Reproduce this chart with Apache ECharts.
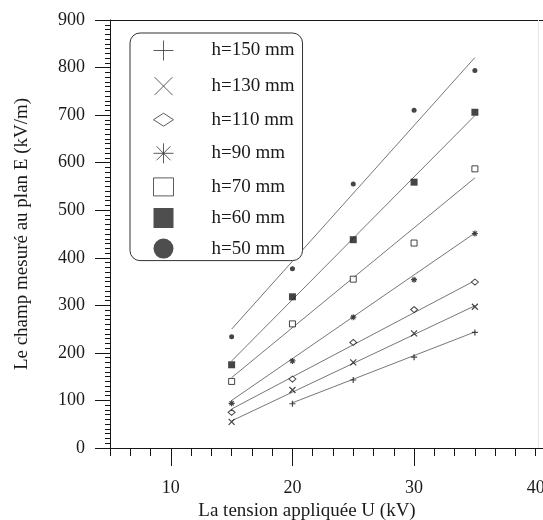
<!DOCTYPE html>
<html>
<head>
<meta charset="utf-8">
<script src="https://cdn.jsdelivr.net/npm/echarts@6/dist/echarts.min.js"></script>
<style>html,body{margin:0;padding:0;background:#fff}#chart{width:543px;height:520px}</style>
</head>
<body>
<div id="chart"></div>
<script>
var tension = [15, 20, 25, 30, 35];
// measured field E (kV/m), one array per height h
var h150 = [null, 93, 143, 191, 243];
var h130 = [55, 122, 180, 241, 297];
var h110 = [75, 145, 222, 291, 349];
var h90 = [94, 183, 275, 354, 451];
var h70 = [140, 261, 355, 431, 587];
var h60 = [175, 318, 438, 559, 706];
var h50 = [234, 377, 555, 710, 794];
// fitted lines, end points
var fit150 = [[20, 95], [35, 244]];
var fit130 = [[15, 57], [35, 299]];
var fit110 = [[15, 82], [35, 352]];
var fit90 = [[15, 100], [35, 452]];
var fit70 = [[15, 148], [35, 568]];
var fit60 = [[15, 183], [35, 699]];
var fit50 = [[15, 250], [35, 821]];
var xMajor = [10, 20, 30];
var xLabels = [10, 20, 30, 40];

var names = ['h=150 mm', 'h=130 mm', 'h=110 mm', 'h=90 mm', 'h=70 mm', 'h=60 mm', 'h=50 mm'];
var values = [h150, h130, h110, h90, h70, h60, h50];
var fits = [fit150, fit130, fit110, fit90, fit70, fit60, fit50];

var ink = '#161616';
var font = 'Liberation Serif';
// legend icons live in a 53x20 box, drawn in its left 20px so the text sits further right
var box = 'path://M0,0M53,20';
var marks = [
    {sym: 'path://M0,5H10M5,0V10', size: 6, icon: box + 'M0,10H20M10,0V20', fill: false},
    {sym: 'path://M0,0L10,10M10,0L0,10', size: 6, icon: box + 'M1,1L19,19M19,1L1,19', fill: false},
    {sym: 'diamond', size: [7, 6], icon: box + 'M0,10L10,3.5L20,10L10,16.5Z', fill: '#fff'},
    {sym: 'path://M0,5H10M5,0V10M1.5,1.5L8.5,8.5M8.5,1.5L1.5,8.5', size: 6, icon: box + 'M0,10H20M10,0V20M3,3L17,17M17,3L3,17', fill: false},
    {sym: 'rect', size: 6, icon: box + 'M0,1H20V19H0Z', fill: '#fff'},
    {sym: 'rect', size: 7, icon: box + 'M0,0H20V20H0Z', fill: ink},
    {sym: 'circle', size: 5, icon: box + 'M0,10A10,10 0 1,1 20,10A10,10 0 1,1 0,10Z', fill: ink}
];

var series = [];
var legendData = [];
for (var i = 0; i < names.length; i++) {
    var m = marks[i];
    var pts = [];
    for (var j = 0; j < tension.length; j++) {
        if (values[i][j] != null) pts.push([tension[j], values[i][j]]);
    }
    series.push({
        name: 'fit ' + names[i],
        type: 'line',
        data: fits[i],
        symbol: 'none',
        silent: true,
        z: 1,
        lineStyle: {color: '#777', width: 1}
    });
    var style = m.fill === false
        ? {color: 'none', borderColor: ink, borderWidth: 1.2}
        : (m.fill === '#fff' ? {color: '#fff', borderColor: ink, borderWidth: 1} : {color: ink, borderWidth: 0});
    series.push({
        name: names[i],
        type: 'scatter',
        data: pts,
        symbol: m.sym,
        symbolSize: m.size,
        z: 3,
        itemStyle: style
    });
    legendData.push({
        name: names[i],
        icon: m.icon,
        itemStyle: m.fill === false || m.fill === '#fff'
            ? {color: m.fill === false ? 'none' : '#fff', borderColor: '#333', borderWidth: 1}
            : {color: '#222', borderWidth: 0}
    });
}
// faint right frame
series[0].markLine = {
    silent: true,
    symbol: 'none',
    label: {show: false},
    lineStyle: {color: '#e4e4e4', type: 'solid', width: 1},
    data: [{xAxis: 40.2}]
};

var myChart = echarts.init(document.getElementById('chart'));
var option = {
    backgroundColor: '#fff',
    animation: false,
    grid: {left: 110, right: 0, top: 20, bottom: 72, containLabel: false, outerBoundsMode: 'none'},
    legend: {
        orient: 'vertical',
        left: 130,
        top: 33,
        padding: [5, 8, 2, 21],
        itemWidth: 53,
        itemHeight: 20,
        itemGap: 10.6,
        borderColor: '#333',
        borderWidth: 1,
        borderRadius: 10,
        backgroundColor: '#fff',
        textStyle: {fontFamily: font, fontSize: 19, color: '#1a1a1a', lineHeight: 20},
        data: legendData
    },
    xAxis: [{
        type: 'value',
        min: 5,
        max: 40.6,
        interval: 10 / 6,
        axisLine: {lineStyle: {color: ink, width: 1}},
        axisTick: {length: 8, lineStyle: {color: ink}},
        axisLabel: {show: false},
        splitLine: {show: false}
    }, {
        type: 'value',
        min: 5,
        max: 40.6,
        position: 'bottom',
        axisLine: {show: false},
        axisTick: {customValues: xMajor, length: 18, lineStyle: {color: ink}},
        axisLabel: {customValues: xLabels, margin: 31, fontFamily: font, fontSize: 18, color: '#1a1a1a'},
        splitLine: {show: false},
        name: 'La tension appliquée U (kV)',
        nameLocation: 'middle',
        nameGap: 50,
        nameTextStyle: {fontFamily: font, fontSize: 19, color: '#1a1a1a', padding: [0, 39, 0, 0]}
    }, {
        type: 'value',
        min: 5,
        max: 40.6,
        position: 'top',
        axisLine: {lineStyle: {color: ink, width: 1}},
        axisTick: {show: false},
        axisLabel: {show: false},
        splitLine: {show: false}
    }],
    yAxis: {
        type: 'value',
        min: 0,
        max: 900,
        interval: 100,
        axisLine: {show: true, lineStyle: {color: ink, width: 1}},
        axisTick: {length: 15, lineStyle: {color: ink}},
        minorTick: {show: true, splitNumber: 10, length: 5, lineStyle: {color: ink}},
        axisLabel: {margin: 25, fontFamily: font, fontSize: 18, color: '#1a1a1a'},
        splitLine: {show: false},
        minorSplitLine: {show: false},
        name: 'Le champ mesuré au plan E (kV/m)',
        nameLocation: 'middle',
        nameGap: 78,
        nameTextStyle: {fontFamily: font, fontSize: 19, color: '#1a1a1a'}
    },
    series: series
};
myChart.setOption(option);
</script>
</body>
</html>
